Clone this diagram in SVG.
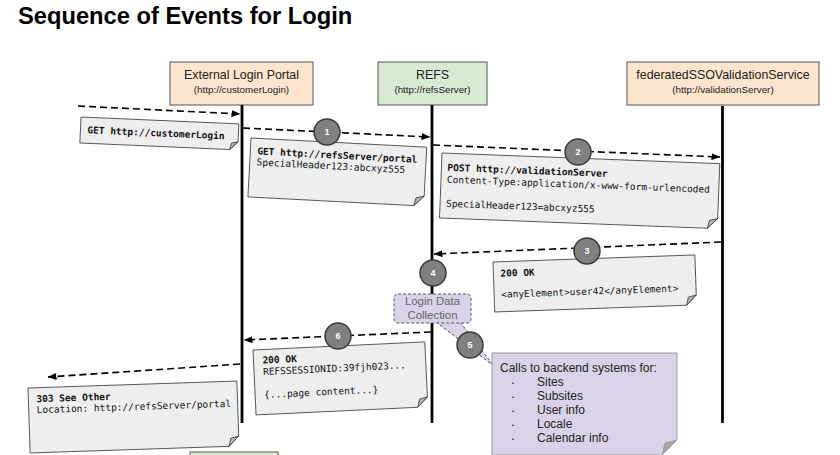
<svg xmlns="http://www.w3.org/2000/svg" width="840" height="455" viewBox="0 0 840 455">
<defs>
<marker id="ah" markerWidth="9" markerHeight="7" refX="8.5" refY="3.5" orient="auto" markerUnits="userSpaceOnUse"><path d="M0,0 L9,3.5 L0,7 z" fill="#000"/></marker>
</defs>
<style>
.title{font-family:"Liberation Sans",Arial,sans-serif;font-weight:bold;font-size:23.7px;fill:#000}
.actor{stroke:#555;stroke-width:1}
.orange{fill:#fce5cd}
.green{fill:#d9ead3}
.an{font-family:"Liberation Sans",Arial,sans-serif;font-size:12.4px;fill:#222;text-anchor:middle}
.as{font-size:9.8px}
.life{stroke:#000;stroke-width:2.8}
.msg{stroke:#000;stroke-width:1.6;stroke-dasharray:7 4;fill:none;marker-end:url(#ah)}
.note{fill:#eeeeee;stroke:#333;stroke-width:0.8}
.fold{fill:#b8b8b8;stroke:#333;stroke-width:0.8}
.mono{font-family:"DejaVu Sans Mono","Liberation Mono",monospace;font-size:9.5px;fill:#111}
.b{font-weight:bold}
.step circle{fill:#808080;stroke:#3a3a3a;stroke-width:1.5}
.step text{font-family:"Liberation Sans",Arial,sans-serif;font-size:9px;font-weight:bold;fill:#fff;text-anchor:middle}
.purple{fill:#d9d2e9}
.dash{stroke:#555;stroke-width:1;stroke-dasharray:3 2}
.sans{font-family:"Liberation Sans",Arial,sans-serif;font-size:12px;fill:#222}
</style>
<rect width="840" height="455" fill="#fff"/>
<text class="title" x="18" y="24">Sequence of Events for Login</text>

<g id="actor-external">
<rect class="actor orange" x="170" y="62" width="143" height="43"/>
<text class="an" x="241.5" y="79">External Login Portal</text>
<text class="an as" x="241.5" y="93">(http://customerLogin)</text>
</g>
<g id="actor-refs">
<rect class="actor green" x="378" y="62" width="109" height="43"/>
<text class="an" x="432.5" y="79">REFS</text>
<text class="an as" x="432.5" y="93">(http://refsServer)</text>
</g>
<g id="actor-validation">
<rect class="actor orange" x="627" y="62" width="192" height="43"/>
<text class="an" x="723" y="79">federatedSSOValidationService</text>
<text class="an as" x="723" y="93">(http://validationServer)</text>
</g>
<g id="actor-bottom">
<rect class="actor green" x="190" y="452" width="88" height="20"/>
</g>

<g id="lifelines">
<line class="life" x1="242" y1="105" x2="242" y2="423"/>
<line class="life" x1="432" y1="105" x2="432" y2="423"/>
<line class="life" x1="722.5" y1="106" x2="722.5" y2="423"/>
</g>

<g id="callout-tail">
<path class="purple" d="M436,322 L460,322 L494,366 Z"/>
<path class="dash" fill="none" d="M436,322 L494,366 L460,322"/>
</g>

<g id="connectors">
<path class="msg" d="M78,106 L240,114"/>
<path class="msg" d="M243,128 L430,137"/>
<path class="msg" d="M433,145 L720,157"/>
<path class="msg" d="M721,242 L434,254"/>
<path class="msg" d="M431,332 L244,340"/>
<path class="msg" d="M240,364 L48,377"/>
</g>

<g id="note-get-login" transform="translate(81,117) rotate(2.5)">
<path class="note" d="M0,0H158V18L150,26H0Z"/>
<path class="fold" d="M150,26L158,18L151.5,19.5Z"/>
<text class="mono b" x="7" y="16">GET http://customerLogin</text>
</g>

<g id="note-get-portal" transform="translate(251,138) rotate(3)">
<path class="note" d="M0,0H176V49L166,59H0Z"/>
<path class="fold" d="M166,59L176,49L168,51Z"/>
<text class="mono b" x="7" y="16">GET http://refsServer/portal</text>
<text class="mono" x="7" y="27">SpecialHeader123:abcxyz555</text>
</g>

<g id="note-post" transform="translate(442,153) rotate(2.2)">
<path class="note" d="M0,0H278V55L268,65H0Z"/>
<path class="fold" d="M268,65L278,55L270,57Z"/>
<text class="mono b" x="6" y="17.5">POST http://validationServer</text>
<text class="mono" x="6" y="29.5">Content-Type:application/x-www-form-urlencoded</text>
<text class="mono" x="6" y="53.5">SpecialHeader123=abcxyz555</text>
</g>

<g id="note-200-user" transform="translate(493,262) rotate(-2)">
<path class="note" d="M0,0H202V40L192,50H0Z"/>
<path class="fold" d="M192,50L202,40L194,42Z"/>
<text class="mono b" x="7" y="15">200 OK</text>
<text class="mono" x="7" y="36">&lt;anyElement&gt;user42&lt;/anyElement&gt;</text>
</g>

<g id="note-200-session" transform="translate(253,350) rotate(-2.7)">
<path class="note" d="M0,0H172V55L162,65H0Z"/>
<path class="fold" d="M162,65L172,55L164,57Z"/>
<text class="mono b" x="9" y="14">200 OK</text>
<text class="mono" x="9" y="25.5">REFSSESSIONID:39fjh023...</text>
<text class="mono" x="9" y="48.5">{...page content...}</text>
</g>

<g id="note-303" transform="translate(28,388) rotate(-1.9)">
<path class="note" d="M0,0H209V55L199,65H0Z"/>
<path class="fold" d="M199,65L209,55L201,57Z"/>
<text class="mono b" x="8" y="14.5">303 See Other</text>
<text class="mono" x="8" y="25.5">Location: http://refsServer/portal</text>
</g>

<g id="login-data-collection">
<rect class="purple dash" x="394" y="294" width="77" height="29" rx="4"/>
<text class="an" style="font-size:11.4px;fill:#666" x="432.5" y="305">Login Data</text>
<text class="an" style="font-size:11.4px;fill:#666" x="432.5" y="318.5">Collection</text>
</g>

<g id="note-backend">
<path class="purple" stroke="#999" stroke-width="1" d="M492,353H677V440L662,455H492Z"/>
<path fill="#a8a2b4" stroke="#999" stroke-width="0.8" d="M662,455L677,440L665,443Z"/>
<text class="sans" x="500" y="372">Calls to backend systems for:</text>
<g class="sans" style="font-size:6px"><text x="512" y="385">•</text><text x="512" y="399">•</text><text x="512" y="413">•</text><text x="512" y="427">•</text><text x="512" y="441">•</text></g>
<text class="sans" x="537" y="386">Sites</text>
<text class="sans" x="537" y="400">Subsites</text>
<text class="sans" x="537" y="414">User info</text>
<text class="sans" x="537" y="428">Locale</text>
<text class="sans" x="537" y="442">Calendar info</text>
</g>

<g id="steps">
<g class="step" id="step-1"><circle cx="327" cy="132" r="13"/><text x="327" y="135">1</text></g>
<g class="step" id="step-2"><circle cx="578" cy="152" r="13"/><text x="578" y="155">2</text></g>
<g class="step" id="step-3"><circle cx="587" cy="251" r="13"/><text x="587" y="254">3</text></g>
<g class="step" id="step-4"><circle cx="433" cy="273" r="13"/><text x="433" y="276">4</text></g>
<g class="step" id="step-5"><circle cx="470" cy="345" r="13"/><text x="470" y="348">5</text></g>
<g class="step" id="step-6"><circle cx="338" cy="336" r="13"/><text x="338" y="339">6</text></g>
</g>
</svg>
